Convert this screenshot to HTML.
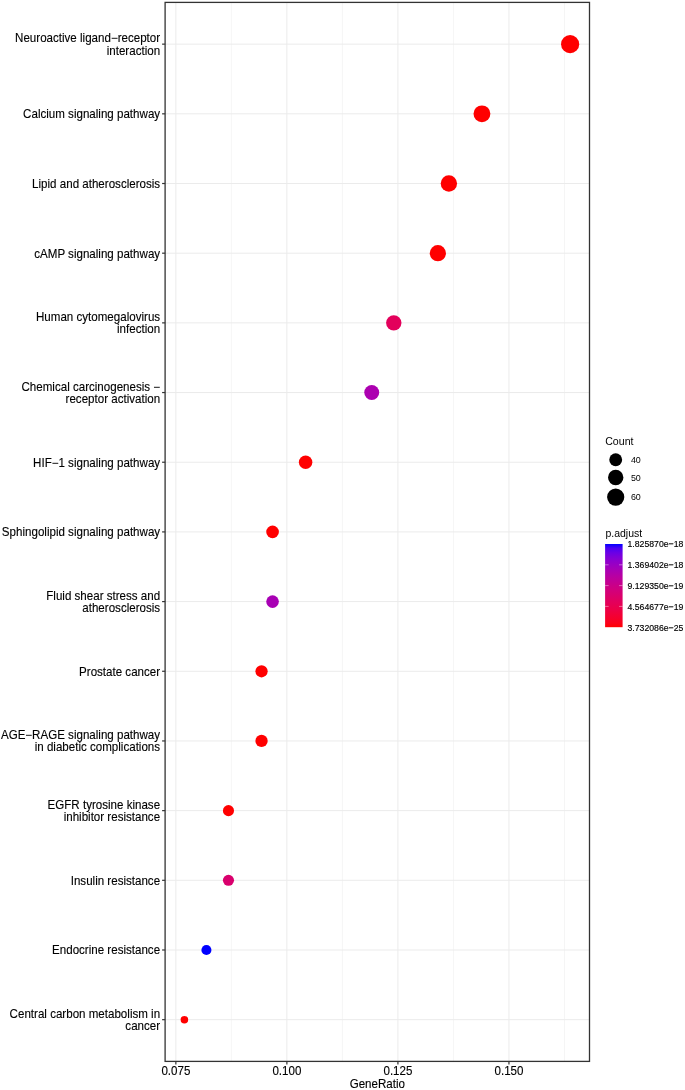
<!DOCTYPE html>
<html lang="en"><head><meta charset="utf-8"><title>KEGG enrichment dot plot</title>
<style>html,body{margin:0;padding:0;background:#fff}svg{display:block;will-change:transform}</style></head>
<body>
<svg width="685" height="1090" viewBox="0 0 685 1090" font-family="Liberation Sans, Arial, sans-serif">
<rect width="685" height="1090" fill="#fff"/>
<g stroke="#ebebeb" stroke-width="0.5">
<line x1="231.37" x2="231.37" y1="2.4" y2="1061.4"/>
<line x1="342.40" x2="342.40" y1="2.4" y2="1061.4"/>
<line x1="453.43" x2="453.43" y1="2.4" y2="1061.4"/>
<line x1="564.46" x2="564.46" y1="2.4" y2="1061.4"/>
</g>
<g stroke="#ebebeb" stroke-width="1">
<line x1="175.85" x2="175.85" y1="2.4" y2="1061.4"/>
<line x1="286.88" x2="286.88" y1="2.4" y2="1061.4"/>
<line x1="397.92" x2="397.92" y1="2.4" y2="1061.4"/>
<line x1="508.95" x2="508.95" y1="2.4" y2="1061.4"/>
<line x1="165.1" x2="589.5" y1="44.15" y2="44.15"/>
<line x1="165.1" x2="589.5" y1="113.83" y2="113.83"/>
<line x1="165.1" x2="589.5" y1="183.51" y2="183.51"/>
<line x1="165.1" x2="589.5" y1="253.19" y2="253.19"/>
<line x1="165.1" x2="589.5" y1="322.87" y2="322.87"/>
<line x1="165.1" x2="589.5" y1="392.55" y2="392.55"/>
<line x1="165.1" x2="589.5" y1="462.23" y2="462.23"/>
<line x1="165.1" x2="589.5" y1="531.91" y2="531.91"/>
<line x1="165.1" x2="589.5" y1="601.59" y2="601.59"/>
<line x1="165.1" x2="589.5" y1="671.27" y2="671.27"/>
<line x1="165.1" x2="589.5" y1="740.95" y2="740.95"/>
<line x1="165.1" x2="589.5" y1="810.63" y2="810.63"/>
<line x1="165.1" x2="589.5" y1="880.31" y2="880.31"/>
<line x1="165.1" x2="589.5" y1="949.99" y2="949.99"/>
<line x1="165.1" x2="589.5" y1="1019.67" y2="1019.67"/>
</g>
<circle cx="570.11" cy="44.15" r="9.09" fill="#FF0000"/>
<circle cx="481.95" cy="113.83" r="8.44" fill="#FF0000"/>
<circle cx="448.89" cy="183.51" r="8.17" fill="#FF0000"/>
<circle cx="437.86" cy="253.19" r="8.08" fill="#FF0000"/>
<circle cx="393.78" cy="322.87" r="7.69" fill="#E3005B"/>
<circle cx="371.74" cy="392.55" r="7.47" fill="#AC00B0"/>
<circle cx="305.62" cy="462.23" r="6.75" fill="#FF0000"/>
<circle cx="272.56" cy="531.91" r="6.31" fill="#FF0000"/>
<circle cx="272.56" cy="601.59" r="6.31" fill="#A800B4"/>
<circle cx="261.54" cy="671.27" r="6.14" fill="#FF0000"/>
<circle cx="261.54" cy="740.95" r="6.14" fill="#FF0000"/>
<circle cx="228.47" cy="810.63" r="5.56" fill="#FF0000"/>
<circle cx="228.47" cy="880.31" r="5.56" fill="#D9006D"/>
<circle cx="206.43" cy="949.99" r="5.03" fill="#0000FF"/>
<circle cx="184.39" cy="1019.67" r="3.76" fill="#FF0000"/>
<rect x="165.1" y="2.4" width="424.4" height="1059.0" fill="none" stroke="#333" stroke-width="1.3"/>
<g stroke="#333" stroke-width="1.2">
<line x1="162.1" x2="165.1" y1="44.15" y2="44.15"/>
<line x1="162.1" x2="165.1" y1="113.83" y2="113.83"/>
<line x1="162.1" x2="165.1" y1="183.51" y2="183.51"/>
<line x1="162.1" x2="165.1" y1="253.19" y2="253.19"/>
<line x1="162.1" x2="165.1" y1="322.87" y2="322.87"/>
<line x1="162.1" x2="165.1" y1="392.55" y2="392.55"/>
<line x1="162.1" x2="165.1" y1="462.23" y2="462.23"/>
<line x1="162.1" x2="165.1" y1="531.91" y2="531.91"/>
<line x1="162.1" x2="165.1" y1="601.59" y2="601.59"/>
<line x1="162.1" x2="165.1" y1="671.27" y2="671.27"/>
<line x1="162.1" x2="165.1" y1="740.95" y2="740.95"/>
<line x1="162.1" x2="165.1" y1="810.63" y2="810.63"/>
<line x1="162.1" x2="165.1" y1="880.31" y2="880.31"/>
<line x1="162.1" x2="165.1" y1="949.99" y2="949.99"/>
<line x1="162.1" x2="165.1" y1="1019.67" y2="1019.67"/>
<line x1="175.85" x2="175.85" y1="1061.4" y2="1064.4"/>
<line x1="286.88" x2="286.88" y1="1061.4" y2="1064.4"/>
<line x1="397.92" x2="397.92" y1="1061.4" y2="1064.4"/>
<line x1="508.95" x2="508.95" y1="1061.4" y2="1064.4"/>
</g>
<g font-size="12" fill="#000" stroke="#000" stroke-width="0.12" text-anchor="end">
<text transform="translate(160.1,42.10) scale(0.965,1)">Neuroactive ligand−receptor</text>
<text transform="translate(160.1,54.60) scale(0.965,1)">interaction</text>
<text transform="translate(160.1,118.23) scale(0.965,1)">Calcium signaling pathway</text>
<text transform="translate(160.1,187.91) scale(0.965,1)">Lipid and atherosclerosis</text>
<text transform="translate(160.1,257.59) scale(0.965,1)">cAMP signaling pathway</text>
<text transform="translate(160.1,320.82) scale(0.965,1)">Human cytomegalovirus</text>
<text transform="translate(160.1,333.32) scale(0.965,1)">infection</text>
<text transform="translate(160.1,390.50) scale(0.965,1)">Chemical carcinogenesis −</text>
<text transform="translate(160.1,403.00) scale(0.965,1)">receptor activation</text>
<text transform="translate(160.1,466.63) scale(0.965,1)">HIF−1 signaling pathway</text>
<text transform="translate(160.1,536.31) scale(0.965,1)">Sphingolipid signaling pathway</text>
<text transform="translate(160.1,599.54) scale(0.965,1)">Fluid shear stress and</text>
<text transform="translate(160.1,612.04) scale(0.965,1)">atherosclerosis</text>
<text transform="translate(160.1,675.67) scale(0.965,1)">Prostate cancer</text>
<text transform="translate(160.1,738.90) scale(0.965,1)">AGE−RAGE signaling pathway</text>
<text transform="translate(160.1,751.40) scale(0.965,1)">in diabetic complications</text>
<text transform="translate(160.1,808.58) scale(0.965,1)">EGFR tyrosine kinase</text>
<text transform="translate(160.1,821.08) scale(0.965,1)">inhibitor resistance</text>
<text transform="translate(160.1,884.71) scale(0.965,1)">Insulin resistance</text>
<text transform="translate(160.1,954.39) scale(0.965,1)">Endocrine resistance</text>
<text transform="translate(160.1,1017.62) scale(0.965,1)">Central carbon metabolism in</text>
<text transform="translate(160.1,1030.12) scale(0.965,1)">cancer</text>
</g>
<g font-size="12" fill="#000" stroke="#000" stroke-width="0.12" text-anchor="middle">
<text transform="translate(175.85,1074.9) scale(0.965,1)">0.075</text>
<text transform="translate(286.88,1074.9) scale(0.965,1)">0.100</text>
<text transform="translate(397.92,1074.9) scale(0.965,1)">0.125</text>
<text transform="translate(508.95,1074.9) scale(0.965,1)">0.150</text>
<text transform="translate(377.30,1087.7) scale(0.965,1)">GeneRatio</text>
</g>
<g fill="#000">
<text transform="translate(605.2,444.8) scale(0.965,1)" font-size="11">Count</text>
<circle cx="615.7" cy="459.8" r="6.46"/>
<text transform="translate(630.9,463.0) scale(0.97,1)" font-size="9.2">40</text>
<circle cx="615.7" cy="477.5" r="7.69"/>
<text transform="translate(630.9,480.7) scale(0.97,1)" font-size="9.2">50</text>
<circle cx="615.7" cy="497.1" r="8.61"/>
<text transform="translate(630.9,500.3) scale(0.97,1)" font-size="9.2">60</text>
<text transform="translate(605.4,537) scale(0.955,1)" font-size="11">p.adjust</text>
</g>
<defs><linearGradient id="g" x1="0" y1="0" x2="0" y2="1"><stop offset="0.00" stop-color="#0000FF"/><stop offset="0.05" stop-color="#4B00F3"/><stop offset="0.10" stop-color="#6800E7"/><stop offset="0.15" stop-color="#7C00DA"/><stop offset="0.20" stop-color="#8D00CE"/><stop offset="0.25" stop-color="#9A00C3"/><stop offset="0.30" stop-color="#A600B7"/><stop offset="0.35" stop-color="#B000AB"/><stop offset="0.40" stop-color="#BA009F"/><stop offset="0.45" stop-color="#C20094"/><stop offset="0.50" stop-color="#CA0088"/><stop offset="0.55" stop-color="#D1007D"/><stop offset="0.60" stop-color="#D70072"/><stop offset="0.65" stop-color="#DD0066"/><stop offset="0.70" stop-color="#E3005B"/><stop offset="0.75" stop-color="#E80050"/><stop offset="0.80" stop-color="#ED0044"/><stop offset="0.85" stop-color="#F20037"/><stop offset="0.90" stop-color="#F6002A"/><stop offset="0.95" stop-color="#FB001A"/><stop offset="1.00" stop-color="#FF0000"/></linearGradient></defs>
<rect x="605.1" y="544.0" width="17.5" height="83.2" fill="url(#g)"/>
<g stroke="#fff" stroke-width="0.5" stroke-opacity="0.85">
<line x1="605.1" x2="608.6" y1="564.8" y2="564.8"/><line x1="619.1" x2="622.6" y1="564.8" y2="564.8"/>
<line x1="605.1" x2="608.6" y1="585.6" y2="585.6"/><line x1="619.1" x2="622.6" y1="585.6" y2="585.6"/>
<line x1="605.1" x2="608.6" y1="606.4" y2="606.4"/><line x1="619.1" x2="622.6" y1="606.4" y2="606.4"/>
</g>
<g font-size="9.1" fill="#000" stroke="#000" stroke-width="0.15">
<text transform="translate(627.5,547.4) scale(0.956,1)">1.825870e−18</text>
<text transform="translate(627.5,568.2) scale(0.956,1)">1.369402e−18</text>
<text transform="translate(627.5,589.0) scale(0.956,1)">9.129350e−19</text>
<text transform="translate(627.5,609.8) scale(0.956,1)">4.564677e−19</text>
<text transform="translate(627.5,630.6) scale(0.956,1)">3.732086e−25</text>
</g>
</svg>
</body></html>
